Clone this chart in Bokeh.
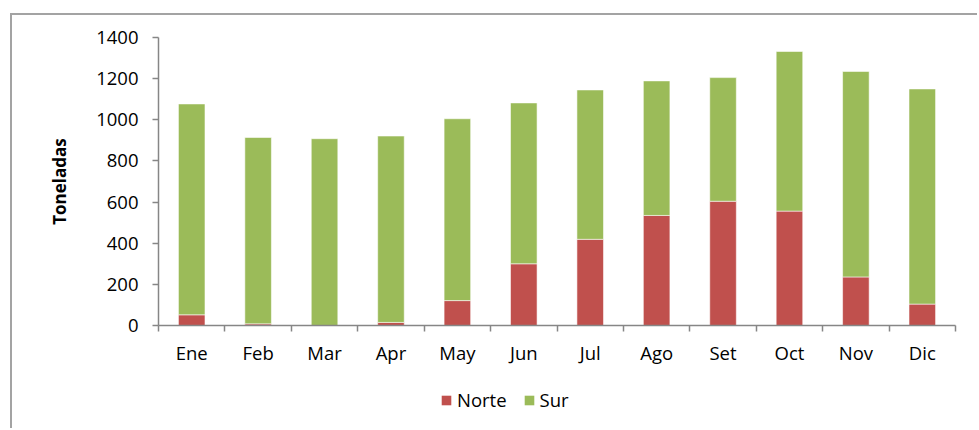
from bokeh.plotting import figure
from bokeh.layouts import column
from bokeh.models import (ColumnDataSource, Range1d, FixedTicker, CustomJSTickFormatter,
                          Legend, LegendItem)
from bokeh.embed import file_html
from bokeh.resources import INLINE

months = ["Ene", "Feb", "Mar", "Apr", "May", "Jun", "Jul", "Ago", "Set", "Oct", "Nov", "Dic"]
norte = [52, 8, 0, 15, 121, 300, 419, 535, 604, 556, 236, 104]
sur = [1025, 906, 908, 906, 884, 782, 726, 654, 601, 776, 999, 1046]
y_ticks = [0, 200, 400, 600, 800, 1000, 1200, 1400]

FONT = "Open Sans"
C_NORTE = "#C0504D"
C_SUR = "#9BBB59"
AXIS = "#868686"
BORDER = "2px solid #A3A3A3"

xpos = [i + 0.5 for i in range(len(months))]
src = ColumnDataSource(dict(x=xpos, Norte=norte, Sur=sur))

p = figure(width=967, height=352, output_backend="svg", toolbar_location=None,
           x_range=Range1d(0, len(months)), y_range=Range1d(0, 1400),
           min_border_left=146, min_border_right=24, min_border_top=22, min_border_bottom=41)
p.margin = (13, 0, 0, 10)
p.styles = {"border-top": BORDER, "border-left": BORDER}

rs = p.vbar_stack(["Norte", "Sur"], x="x", width=0.4, source=src,
                  color=[C_NORTE, C_SUR], line_color="white", line_alpha=0.55, line_width=1)

p.outline_line_color = None
p.xgrid.visible = False
p.ygrid.visible = False
p.background_fill_color = "white"
p.border_fill_color = "white"

xa = p.xaxis[0]
xa.ticker = FixedTicker(ticks=xpos, minor_ticks=list(range(len(months) + 1)))
xa.formatter = CustomJSTickFormatter(args=dict(cats=months),
                                     code="return cats[Math.round(tick - 0.5)] || '';")
xa.major_tick_out = 0
xa.major_tick_in = 0
xa.minor_tick_out = 6
xa.minor_tick_in = 0
xa.minor_tick_line_color = AXIS
xa.minor_tick_line_width = 1.5
xa.axis_line_color = AXIS
xa.axis_line_width = 1.5
xa.major_label_text_font = FONT
xa.major_label_text_font_size = "18.5px"
xa.major_label_text_color = "black"
xa.major_label_standoff = 8

ya = p.yaxis[0]
ya.ticker = FixedTicker(ticks=y_ticks)
ya.minor_tick_line_color = None
ya.major_tick_out = 6
ya.major_tick_in = 0
ya.major_tick_line_color = AXIS
ya.major_tick_line_width = 1.5
ya.axis_line_color = AXIS
ya.axis_line_width = 1.5
ya.major_label_text_font = FONT
ya.major_label_text_font_size = "18.5px"
ya.major_label_text_color = "black"
ya.major_label_standoff = 14
ya.axis_label = "Toneladas"
ya.axis_label_text_font = FONT
ya.axis_label_text_font_size = "17px"
ya.axis_label_text_font_style = "bold"
ya.axis_label_text_color = "black"
ya.axis_label_standoff = 22

# legend strip below the chart (same data, bars kept outside its view)
p2 = figure(width=967, height=63, output_backend="svg", toolbar_location=None,
            x_range=Range1d(0, len(months)), y_range=Range1d(5000, 5001),
            x_axis_type=None, y_axis_type=None, min_border=0)
p2.margin = (0, 0, 0, 10)
p2.styles = {"border-left": BORDER}
p2.outline_line_color = None
p2.xgrid.visible = False
p2.ygrid.visible = False
p2.background_fill_color = "white"
p2.border_fill_color = "white"
rs2 = p2.vbar_stack(["Norte", "Sur"], x="x", width=0.4, source=src,
                    color=[C_NORTE, C_SUR], line_color=None)

legend = Legend(items=[LegendItem(label="Norte", renderers=[rs2[0]]),
                       LegendItem(label="Sur", renderers=[rs2[1]])],
                location=(282, 16), orientation="horizontal",
                glyph_width=12, glyph_height=12, label_standoff=5, spacing=16,
                padding=0, margin=0, border_line_color=None, background_fill_alpha=0,
                label_text_font=FONT, label_text_font_size="18.5px", label_text_color="black")
p2.add_layout(legend, "center")

layout = column(p, p2, spacing=0)
open("out.html", "w").write(file_html(layout, INLINE))
